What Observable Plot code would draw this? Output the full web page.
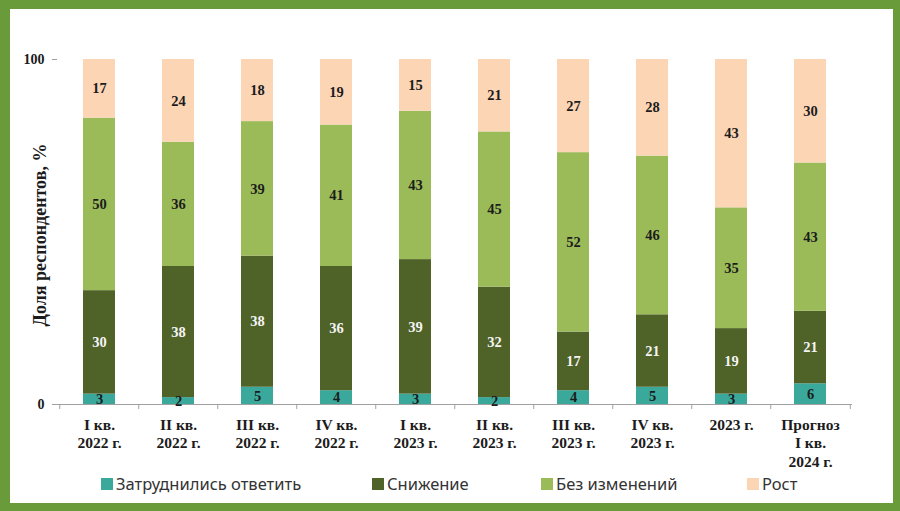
<!DOCTYPE html>
<html>
<head>
<meta charset="utf-8">
<script src="https://cdn.jsdelivr.net/npm/d3@7"></script>
<script src="https://cdn.jsdelivr.net/npm/@observablehq/plot@0.6"></script>
<style>
  html, body { margin: 0; padding: 0; background: #fff; }
  #frame {
    position: relative; width: 900px; height: 511px; box-sizing: border-box;
    border-style: solid; border-color: #6a9b3a;
    border-width: 9px 7px 8px 10px; background: #fff; overflow: hidden;
  }
  #chart { position: absolute; left: 0; top: 0; }
  .leg { position: absolute; top: 463px; display: flex; align-items: center;
         font-family: "Noto Sans", "Open Sans", sans-serif; font-size: 16.5px; color: #333; white-space: nowrap; }
  .leg span.sw { display: inline-block; width: 12px; height: 12px; margin-right: 3px; }
</style>
</head>
<body>
<div id="frame">
  <div id="chart"></div>
  <div id="legend"></div>
</div>
<script>
const categories = ["I кв.\n2022 г.", "II кв.\n2022 г.", "III кв.\n2022 г.", "IV кв.\n2022 г.", "I кв.\n2023 г.",
  "II кв.\n2023 г.", "III кв.\n2023 г.", "IV кв.\n2023 г.", "2023 г.", "Прогноз\nI кв.\n2024 г."];
const seriesNames = ["Затруднились ответить", "Снижение", "Без изменений", "Рост"];
const seriesColors = ["#3aa99b", "#4f6228", "#9bbb59", "#fcd5b5"];
const hardToSay = [3, 2, 5, 4, 3, 2, 4, 5, 3, 6];
const decrease  = [30, 38, 38, 36, 39, 32, 17, 21, 19, 21];
const noChange  = [50, 36, 39, 41, 43, 45, 52, 46, 35, 43];
const increase  = [17, 24, 18, 19, 15, 21, 27, 28, 43, 30];
const yTicks = [0, 100];
const yLabel = "Доля респондентов, %";

const seriesValues = [hardToSay, decrease, noChange, increase];
const data = [];
categories.forEach((c, i) => {
  seriesNames.forEach((s, j) => data.push({category: c, series: s, value: seriesValues[j][i]}));
});

const W = 882, H = 465, ML = 47, MR = 40, MT = 50, MB = 70;
const step = (W - ML - MR) / categories.length;
const serif = "'Liberation Serif', 'DejaVu Serif', serif";
const axisGray = "#a0a0a0";

const chart = Plot.plot({
  width: W, height: H,
  marginLeft: ML, marginRight: MR, marginTop: MT, marginBottom: MB,
  style: {fontFamily: serif, background: "transparent", overflow: "visible"},
  x: {domain: categories, paddingInner: 0.6, paddingOuter: 0.3, axis: null},
  y: {domain: [0, 100], axis: null},
  color: {domain: seriesNames, range: seriesColors},
  marks: [
    Plot.barY(data, Plot.stackY({x: "category", y: "value", z: "series", fill: "series", order: seriesNames})),
    Plot.ruleY([0], {stroke: axisGray, strokeWidth: 1}),
    Plot.ruleX(categories, {x: d => d, y1: 0, y2: 0, insetBottom: -5, dx: -step / 2, stroke: axisGray}),
    Plot.ruleX([categories[categories.length - 1]], {x: d => d, y1: 0, y2: 0, insetBottom: -5, dx: step / 2, stroke: axisGray}),
    Plot.axisY({ticks: yTicks, tickSize: 5, tickPadding: 8, label: null, line: true, stroke: axisGray, color: axisGray,
      fill: "#1a1a1a", fontSize: 14, fontWeight: "bold", tickFormat: d => String(d)}),
    Plot.text(data, Plot.stackY({x: "category", y: "value", z: "series", order: seriesNames,
      text: d => d.series === "Снижение" ? "" : String(d.value), fill: "#1c1c1c", fontSize: 14.5, fontWeight: "bold"})),
    Plot.text(data, Plot.stackY({x: "category", y: "value", z: "series", order: seriesNames,
      text: d => d.series === "Снижение" ? String(d.value) : "", fill: "#f4f4f4", fontSize: 14.5, fontWeight: "bold"})),
    Plot.text(categories, {x: d => d, y: 0, text: d => d, dy: 12, lineAnchor: "top", lineHeight: 1.2,
      fontSize: 15.5, fontWeight: "bold", fill: "#1c1c1c"}),
    Plot.text([yLabel], {frameAnchor: "left", text: d => d, rotate: -90, dx: -17, dy: 3, textAnchor: "middle",
      fontSize: 18, fontWeight: "bold", fill: "#1c1c1c"})
  ]
});
document.getElementById("chart").appendChild(chart);

const legendX = [91, 362, 531, 737];
const legend = document.getElementById("legend");
seriesNames.forEach((s, i) => {
  const el = document.createElement("div");
  el.className = "leg";
  el.style.left = legendX[i] + "px";
  el.innerHTML = `<span class="sw" style="background:${seriesColors[i]}"></span>${s}`;
  legend.appendChild(el);
});
</script>
</body>
</html>
